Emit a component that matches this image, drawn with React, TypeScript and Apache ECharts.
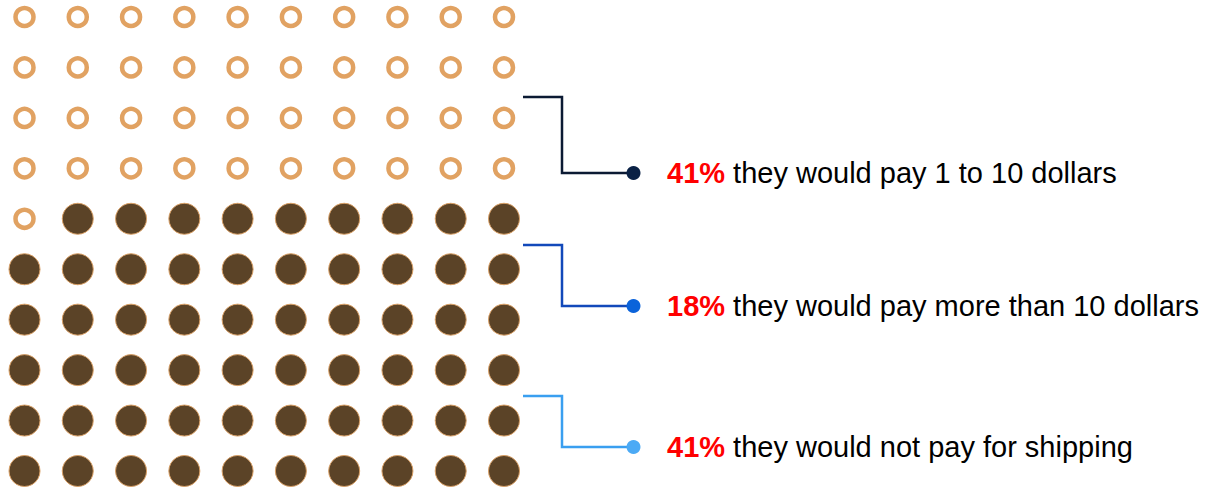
import React, { useEffect, useRef } from "react";
import * as echarts from "echarts";

// ---- data ----
const labels = [
  "they would pay 1 to 10 dollars",
  "they would pay more than 10 dollars",
  "they would not pay for shipping",
];
const percents = [41, 18, 41];
const hollowCount = 41; // dots drawn as rings
const cols = 10;
const rows = 10;

const ringColor = "#E1A262";
const fillColor = "#5B4327";
const bracketColors = ["#0B1A33", "#1249BA", "#3A9FF0"];
const dotColors = ["#0A2145", "#0B63DA", "#4CAAF5"];

// bracket geometry (pixels)
const bracketTops = [97, 245, 396];
const bracketBottoms = [173, 306, 447];

const FONT = "'Liberation Sans', Arial, sans-serif";

export default function App() {
  const ref = useRef<HTMLDivElement>(null);
  useEffect(() => {
    document.body.style.margin = "0";
    if (!ref.current) return;
    const chart = echarts.init(ref.current, undefined, { renderer: "svg" });

    const hollow: number[][] = [];
    const filled: number[][] = [];
    for (let i = 0; i < cols * rows; i++) {
      const r = Math.floor(i / cols);
      const c = i % cols;
      if (i < hollowCount) hollow.push([c, r]);
      else filled.push([c, r]);
    }

    const graphics: any[] = [];
    for (let k = 0; k < 3; k++) {
      graphics.push({
        type: "polyline",
        silent: true,
        shape: {
          points: [
            [523, bracketTops[k]],
            [562, bracketTops[k]],
            [562, bracketBottoms[k]],
            [633, bracketBottoms[k]],
          ],
        },
        style: { stroke: bracketColors[k], lineWidth: 2.5, fill: null },
      });
      graphics.push({
        type: "circle",
        silent: true,
        shape: { cx: 633.5, cy: bracketBottoms[k], r: 7 },
        style: { fill: dotColors[k] },
      });
      graphics.push({
        type: "text",
        silent: true,
        x: 667,
        y: bracketBottoms[k],
        style: {
          text: `{p|${percents[k]}%}{t|\u00a0${labels[k]}}`,
          verticalAlign: "middle",
          align: "left",
          rich: {
            p: {
              fill: "#FF0000",
              fontWeight: "bold",
              fontSize: 29,
              fontFamily: FONT,
            },
            t: {
              fill: "#000000",
              fontSize: 29,
              fontFamily: FONT,
            },
          },
        },
      });
    }

    chart.setOption({
      animation: false,
      grid: { left: 24.5, top: 17, width: 479.5, height: 454 },
      xAxis: { type: "value", min: 0, max: cols - 1, show: false },
      yAxis: { type: "value", min: 0, max: rows - 1, inverse: true, show: false },
      series: [
        {
          type: "scatter",
          data: hollow,
          symbol: "circle",
          symbolSize: 18,
          silent: true,
          itemStyle: { color: "#FFFFFF", borderColor: ringColor, borderWidth: 4.5, opacity: 1 },
        },
        {
          type: "scatter",
          data: filled,
          symbol: "circle",
          symbolSize: 31,
          silent: true,
          itemStyle: { color: fillColor, borderColor: "#D9A066", borderWidth: 1, opacity: 1 },
        },
      ],
      graphic: graphics,
    });
    return () => chart.dispose();
  }, []);
  return <div ref={ref} style={{ width: 1207, height: 488 }} />;
}
